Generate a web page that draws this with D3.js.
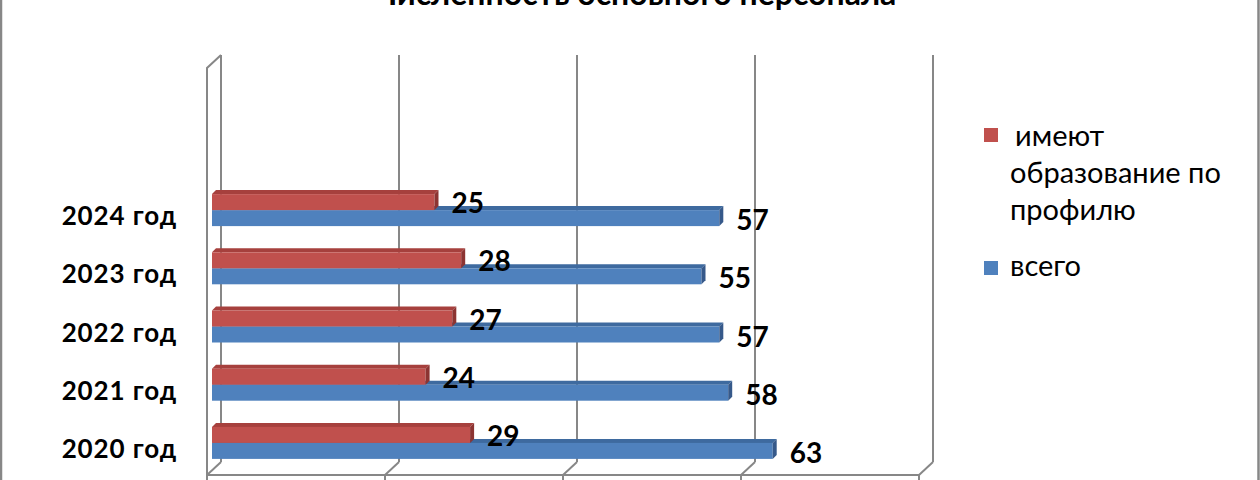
<!DOCTYPE html>
<html>
<head>
<meta charset="utf-8">
<script src="https://cdn.jsdelivr.net/npm/d3@7"></script>
<style>
  body { margin: 0; background: #fff; }
  svg { display: block; }
</style>
</head>
<body>
<script>
var width = 1260, height = 480;

// data
var years = ["2020 год", "2021 год", "2022 год", "2023 год", "2024 год"];
var vsego = [63, 58, 57, 55, 57];
var profil = [29, 24, 27, 28, 25];
var gridTicks = [0, 20, 40, 60, 80];
var seriesNames = ["имеют образование по профилю", "всего"];
var title = "Численность основного персонала";

var gray = "#878787";
var depth = 4;   // bar 3d depth
var wallDx = 14, wallDy = 13;  // back wall -> front of floor

var svg = d3.select("body").append("svg")
    .attr("width", width)
    .attr("height", height);

// outer frame (only sides visible)
svg.append("line").attr("x1", 1).attr("x2", 1).attr("y1", 0).attr("y2", height)
    .attr("stroke", gray).attr("stroke-width", 2.5);
svg.append("line").attr("x1", 1258.5).attr("x2", 1258.5).attr("y1", 0).attr("y2", height)
    .attr("stroke", gray).attr("stroke-width", 2.5);

// title sits partly above the top edge, as in the picture
svg.append("text")
    .attr("x", 636).attr("y", 5)
    .attr("text-anchor", "middle")
    .style("font-family", "Lato, 'Liberation Sans', sans-serif")
    .style("font-weight", "bold")
    .style("font-size", "32px")
    .text(title);

var x = d3.scaleLinear().domain([0, 80]).range([0, 712]);
var y = d3.scaleBand().domain(years.slice().reverse()).range([181, 472]);

var backX = 221, wallTop = 55, wallBottom = 462;
var frontX = backX - wallDx, floorY = wallBottom + wallDy;
var barX = 212;

var grid = svg.append("g").attr("fill", "none").attr("stroke", gray).attr("stroke-width", 2);

// back wall gridlines
grid.selectAll(".gl").data(gridTicks).enter().append("line")
    .attr("x1", function(d){ return backX + x(d); })
    .attr("x2", function(d){ return backX + x(d); })
    .attr("y1", wallTop).attr("y2", wallBottom);

// floor diagonals and front ticks
grid.selectAll(".fd").data(gridTicks).enter().append("line")
    .attr("x1", function(d){ return backX + x(d); })
    .attr("y1", wallBottom)
    .attr("x2", function(d){ return frontX + x(d); })
    .attr("y2", floorY);
grid.selectAll(".ft").data(gridTicks).enter().append("line")
    .attr("x1", function(d){ return frontX + x(d); })
    .attr("x2", function(d){ return frontX + x(d); })
    .attr("y1", floorY).attr("y2", height + 5);
grid.append("line")
    .attr("x1", frontX).attr("x2", frontX + x(80))
    .attr("y1", floorY).attr("y2", floorY);

// left side wall
grid.append("path")
    .attr("d", "M" + frontX + "," + floorY + "V" + (wallTop + wallDy) + "L" + backX + "," + wallTop);

function bar3d(g, v, yTop, h, c) {
    var x0 = barX, x1 = barX + x(v);
    g.append("path")
        .attr("d", "M" + x0 + "," + yTop + "L" + (x0 + depth) + "," + (yTop - depth) +
            "H" + (x1 + depth) + "L" + x1 + "," + yTop + "Z")
        .attr("fill", c.top);
    g.append("rect")
        .attr("x", x0).attr("y", yTop)
        .attr("width", x1 - x0).attr("height", h)
        .attr("fill", c.front);
    g.append("path")
        .attr("d", "M" + x1 + "," + yTop + "L" + (x1 + depth) + "," + (yTop - depth) +
            "V" + (yTop + h - depth) + "L" + x1 + "," + (yTop + h) + "Z")
        .attr("fill", c.side);
}

var blueC = { front: "#4F81BD", top: "#3E6A9F", side: "#36598A" };
var redC = { front: "#C0504D", top: "#A6403D", side: "#8C3432" };
var barH = 16;

var bars = svg.append("g");
var labelFont = "Lato, 'Liberation Sans', sans-serif";

years.forEach(function(yr, i) {
    var c = y(yr) + y.bandwidth() / 2;
    bar3d(bars, vsego[i], c, barH, blueC);
    bar3d(bars, profil[i], c - barH, barH, redC);
});

years.forEach(function(yr, i) {
    var c = y(yr) + y.bandwidth() / 2;
    svg.append("text")
        .attr("x", barX + x(profil[i]) + 17)
        .attr("y", c - barH / 2 + 1)
        .attr("dy", "0.36em")
        .style("font-family", labelFont).style("font-weight", "bold").style("font-size", "28px")
        .text(profil[i]);
    svg.append("text")
        .attr("x", barX + x(vsego[i]) + 17)
        .attr("y", c + barH / 2 + 2)
        .attr("dy", "0.36em")
        .style("font-family", labelFont).style("font-weight", "bold").style("font-size", "28px")
        .text(vsego[i]);
    svg.append("text")
        .attr("x", 177)
        .attr("y", c + 15)
        .attr("text-anchor", "end")
        .style("font-family", labelFont).style("font-weight", "bold").style("font-size", "26px")
        .style("letter-spacing", "0.9px")
        .text(yr);
});

// legend
var legend = svg.append("g").style("font-family", labelFont).style("font-size", "29px");
legend.append("rect").attr("x", 984).attr("y", 128).attr("width", 14).attr("height", 14).attr("fill", redC.front);
legend.append("rect").attr("x", 984).attr("y", 261).attr("width", 14).attr("height", 14).attr("fill", blueC.front);
var lines = ["имеют", "образование по", "профилю"];
var lt = legend.append("text").attr("fill", "#000");
lt.selectAll("tspan").data(lines).enter().append("tspan")
    .attr("x", function(d, i){ return i == 0 ? 1015 : 1010; })
    .attr("y", function(d, i){ return 146 + i * 37; })
    .text(function(d){ return d; });
legend.append("text").attr("x", 1010).attr("y", 276).text(seriesNames[1]);
</script>
</body>
</html>
